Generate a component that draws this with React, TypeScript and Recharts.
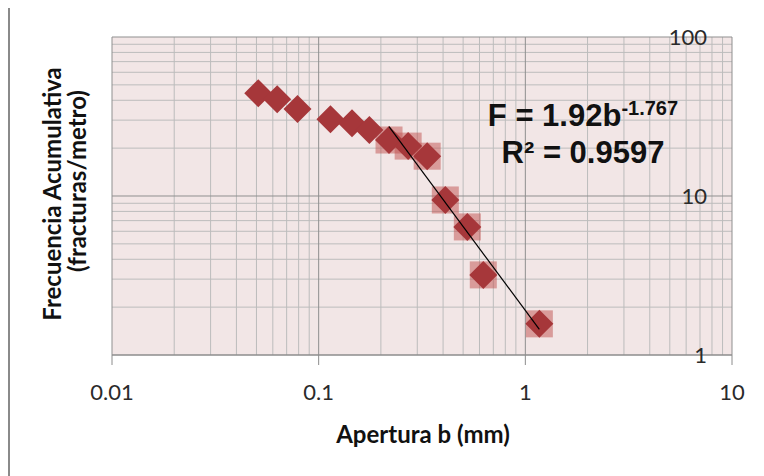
import { ScatterChart, Scatter, XAxis, YAxis, CartesianGrid } from "recharts";

// apertura b (mm) vs frecuencia acumulativa (fracturas/metro)
const APERTURA = [0.051, 0.063, 0.079, 0.114, 0.145, 0.176, 0.219, 0.271, 0.335, 0.41, 0.524, 0.626, 1.169];
const FRECUENCIA = [44.3, 40.6, 35.2, 30.4, 28.7, 26.0, 22.5, 20.6, 17.8, 9.44, 6.39, 3.19, 1.57];
// points used for the power fit (from the 7th point on)
const AJUSTE_DESDE = 6;
// trend line ends
const TREND_B = [0.219, 1.169];
const TREND_F = [27.3, 1.45];

const X_TICKS = [0.01, 0.1, 1, 10];
const Y_TICKS = [1, 10, 100];

const minors = (decades: number[]) =>
  decades.flatMap((d) => [2, 3, 4, 5, 6, 7, 8, 9].map((m) => d * m));
const X_MINOR = minors([0.01, 0.1, 1]);
const Y_MINOR = minors([1, 10]);

const puntos = APERTURA.map((b, i) => ({ b, f: FRECUENCIA[i] }));
const ajuste = puntos.slice(AJUSTE_DESDE);
const trend = TREND_B.map((b, i) => ({ b, f: TREND_F[i] }));

const Diamond = (props: any) => {
  const { cx, cy } = props;
  const r = 14;
  return (
    <polygon
      points={`${cx},${cy - r} ${cx + r},${cy} ${cx},${cy + r} ${cx - r},${cy}`}
      fill="#A6373A"
    />
  );
};

const Square = (props: any) => {
  const { cx, cy } = props;
  const h = 13.5;
  return <rect x={cx - h} y={cy - h} width={h * 2} height={h * 2} fill="#C0504D" fillOpacity={0.5} />;
};

const tickFont = { fontFamily: "Lato, sans-serif", fontSize: 22, fill: "#2a2a2a" };
const titleFont: React.CSSProperties = {
  fontFamily: "Lato, sans-serif",
  fontWeight: 700,
  fontSize: 24,
  color: "#111",
  lineHeight: "24px",
  whiteSpace: "nowrap",
  textAlign: "center",
  position: "absolute",
};
const eqFont: React.CSSProperties = {
  fontFamily: "'Liberation Sans', Arial, sans-serif",
  fontWeight: 700,
  fontSize: 31,
  lineHeight: "37px",
  color: "#111",
  position: "absolute",
  left: 373,
  width: 400,
  textAlign: "center",
  whiteSpace: "nowrap",
};

export default function App() {
  return (
    <div
      style={{
        position: "relative",
        width: 746,
        height: 470,
        marginTop: -2,
        borderTop: "2px solid #8a8a8a",
        borderLeft: "2px solid #8a8a8a",
        background: "#fff",
      }}
    >
      <ScatterChart width={740} height={460} margin={{ top: 29, right: 18, left: 102, bottom: 53 }}>
        <CartesianGrid
          fill="#F2E6E6"
          stroke="#bcbcbc"
          verticalValues={X_MINOR}
          horizontalValues={Y_MINOR}
        />
        <CartesianGrid stroke="#8f8f8f" verticalValues={X_TICKS} horizontalValues={Y_TICKS} />
        <XAxis
          type="number"
          dataKey="b"
          scale="log"
          domain={[0.01, 10]}
          ticks={X_TICKS}
          interval={0}
          tickFormatter={(v: number) => String(v)}
          tick={tickFont}
          tickSize={10}
          tickMargin={19}
          height={60}
          axisLine={{ stroke: "#8c8c8c" }}
          tickLine={{ stroke: "#8c8c8c" }}
        />
        <YAxis
          type="number"
          dataKey="f"
          scale="log"
          domain={[1, 100]}
          ticks={Y_TICKS}
          interval={0}
          orientation="right"
          mirror
          axisLine={false}
          tickLine={false}
          tickSize={0}
          tickMargin={25}
          tick={tickFont}
        />
        <Scatter data={ajuste} shape={<Square />} isAnimationActive={false} />
        <Scatter data={puntos} shape={<Diamond />} isAnimationActive={false} />
        <Scatter
          data={trend}
          line={{ stroke: "#000", strokeWidth: 1.2 }}
          lineType="joint"
          shape={() => <g />}
          isAnimationActive={false}
        />
      </ScatterChart>

      <div style={{ ...eqFont, top: 89 }}>
        F = 1.92b
        <span style={{ fontSize: 20, position: "relative", top: -11 }}>-1.767</span>
      </div>
      <div style={{ ...eqFont, top: 126 }}>R² = 0.9597</div>

      <div style={{ ...titleFont, left: 413 - 150, width: 300, top: 414 }}>Apertura b (mm)</div>
      <div
        style={{
          ...titleFont,
          left: 42 - 150,
          width: 300,
          top: 186 - 12,
          transform: "rotate(-90deg)",
        }}
      >
        Frecuencia Acumulativa
      </div>
      <div
        style={{
          ...titleFont,
          left: 67 - 150,
          width: 300,
          top: 173 - 12,
          transform: "rotate(-90deg)",
        }}
      >
        (fracturas/metro)
      </div>
    </div>
  );
}
